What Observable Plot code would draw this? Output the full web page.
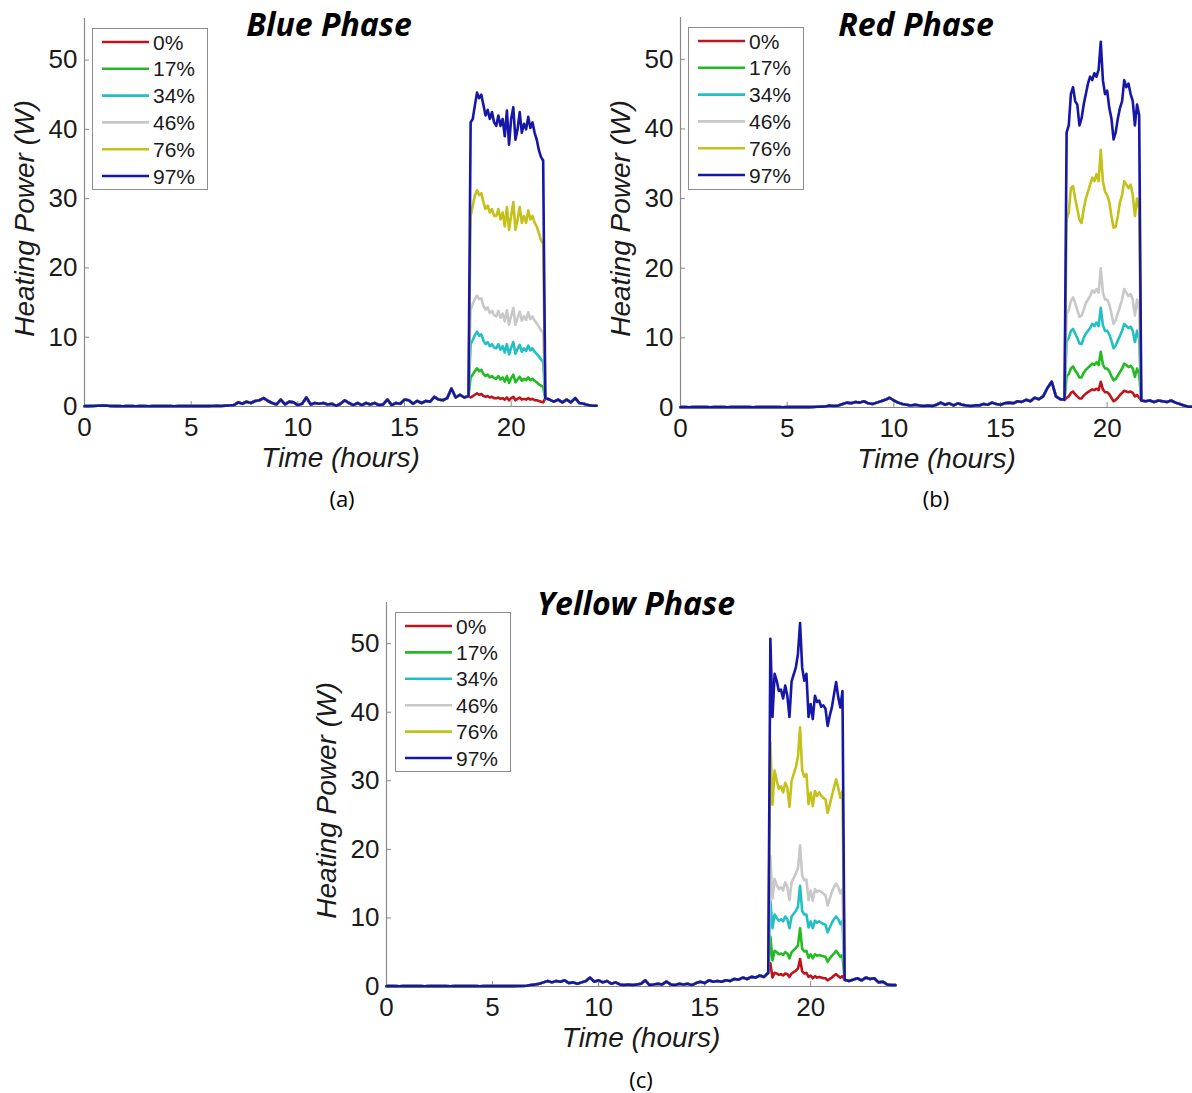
<!DOCTYPE html>
<html>
<head>
<meta charset="utf-8">
<script src="https://cdn.jsdelivr.net/npm/d3@7"></script>
<script src="https://cdn.jsdelivr.net/npm/@observablehq/plot@0.6"></script>
<style>
  body { margin: 0; background: #fff; }
  #page { position: relative; width: 1192px; height: 1093px; overflow: hidden; background: #fff; }
  .panel { position: absolute; }
  .panel svg { overflow: visible; }
  .title { position: absolute; transform: translateX(-50%); font-family: "Open Sans", sans-serif; font-weight: 700; font-style: italic; font-size: 32px; line-height: 30px; white-space: nowrap; color: #000; }
  .caption { position: absolute; transform: translateX(-50%); font-family: "Open Sans", sans-serif; font-size: 22px; line-height: 22px; color: #000; }
  .legend { position: absolute; background: #fff; border: 1px solid #8c8c8c; box-sizing: border-box; }
</style>
</head>
<body>
<div id="page"></div>
<script>
// Series (fraction of heating) and axis ticks
const seriesLabels = ["0%", "17%", "34%", "46%", "76%", "97%"];
const seriesColors = ["#c0141c", "#22bb22", "#22bfc4", "#c8c8c8", "#c4c21a", "#1616a8"];
const xTicks = [0, 5, 10, 15, 20];
const yTicks = [0, 10, 20, 30, 40, 50];

// Sample times (hours): before heating, heating window, after heating
const preHours = d3.range(91).map(i => +(i * 0.2).toFixed(1));        // 0.0 .. 18.0
const windowHours = d3.range(35).map(i => +(18.1 + i * 0.1).toFixed(1)); // 18.1 .. 21.5
const postHours = d3.range(13).map(i => +(21.6 + i * 0.2).toFixed(1));   // 21.6 .. 24.0

// ---- Blue phase ----
const bluePre = [
  0.05,0.05,0.08,0.1,0.12,0.15,0.08,0.05,0.05,0.04,
  0.05,0.05,0.04,0.06,0.05,0.04,0.05,0.05,0.06,0.05,
  0.05,0.04,0.05,0.06,0.05,0.08,0.05,0.05,0.06,0.05,
  0.08,0.1,0.08,0.12,0.15,
  0.2,0.6,0.4,0.7,0.5, 0.8,0.9,1.2,0.8,0.5, 0.3,1.0,0.3,0.7,0.6, 0.2,0.4,1.3,0.3,0.5,
  0.4,0.5,0.3,0.4,0.1, 0.4,0.9,0.5,0.2,0.5, 0.2,0.5,0.3,0.5,0.2, 0.3,1.0,0.2,0.5,0.4,
  1.0,0.9,0.4,0.8,0.5, 0.8,0.7,1.4,1.0,0.9, 1.2,2.6,1.3,1.7,1.3, 1.5
];
const bluePost = [1.2,1.0,0.7,1.0,0.6,1.0,0.6,1.2,0.5,0.4,0.2,0.1,0.1];
const blue0 = [1.3,1.5,1.7,1.9,1.7,1.8,1.5,1.4,1.5,1.3,1.4,1.2,1.2,1.3,1.1,1.2,1.0,1.3,0.9,1.2,1.4,0.9,1.1,1.3,1.0,1.1,1.0,1.2,1.0,1.1,0.9,0.9,0.8,0.7,0.6];
const blue17 = [4.2,4.6,5.1,5.5,5.1,5.3,4.7,4.4,4.6,4.2,4.4,4.1,4.0,4.4,3.9,4.2,3.6,4.4,3.4,4.1,4.6,3.5,3.9,4.3,3.7,4.0,3.8,4.2,3.8,4.0,3.7,3.5,3.2,3.0,2.8];
const blue34 = [9.0,9.6,10.3,10.8,10.2,10.4,9.5,9.0,9.3,8.7,9.0,8.5,8.4,9.0,8.2,8.7,7.8,9.0,7.5,8.5,9.3,7.6,8.3,8.9,7.9,8.4,8.0,8.8,8.1,8.4,7.9,7.6,7.2,6.8,6.4];
const blue46 = [14.0,14.8,15.5,16.0,15.5,15.6,14.5,14.0,14.3,13.5,13.8,13.2,13.0,13.8,12.8,13.4,12.3,13.9,11.8,13.1,14.2,11.8,12.8,13.7,12.4,13.0,12.5,13.6,12.6,13.0,12.4,12.0,11.5,11.0,10.7];
const blue76 = [27.5,29.0,30.5,31.2,30.5,30.8,29.5,28.5,29.0,28.0,28.5,27.5,27.5,28.5,27.0,28.0,26.0,28.8,25.5,27.5,29.5,25.5,27.0,28.8,26.5,27.5,26.5,28.3,27.0,27.5,26.5,26.0,25.0,24.0,23.5];
const blue97 = [41.0,41.5,43.5,45.3,44.5,45.0,43.5,42.0,42.8,41.5,42.5,41.0,40.5,42.0,40.5,41.5,39.0,42.7,37.8,41.5,43.2,38.5,40.0,42.5,39.5,40.8,40.0,41.8,40.2,41.0,39.5,38.5,37.0,36.0,35.5];

// ---- Red phase ----
const redPre = [
  0.05,0.05,0.04,0.05,0.05,0.06,0.05,0.04,0.05,0.05,
  0.05,0.04,0.05,0.05,0.06,0.05,0.05,0.04,0.05,0.05,
  0.06,0.05,0.05,0.05,0.04,0.05,0.06,0.05,0.05,0.08,
  0.06,0.08,0.1,0.12,0.15,
  0.3,0.2,0.3,0.5,0.7, 0.6,0.8,0.7,0.9,0.6, 0.5,0.7,0.9,1.1,1.4, 1.0,0.7,0.5,0.4,0.3,
  0.4,0.3,0.2,0.3,0.2, 0.4,0.7,0.4,0.6,0.3, 0.6,0.4,0.3,0.2,0.3, 0.3,0.5,0.4,0.7,0.5,
  0.4,0.6,0.7,0.6,0.9, 0.8,1.1,0.9,1.4,1.2, 1.6,2.8,3.7,1.6,1.2, 1.1
];
const redPost = [1.0,0.9,1.0,0.8,1.0,0.9,0.8,1.0,0.7,0.5,0.3,0.1,0.1];
const red0 = [1.4,1.6,2.1,2.3,1.9,1.6,1.3,1.3,1.7,2.0,2.2,2.4,2.6,2.5,2.7,2.5,3.7,2.6,2.2,2.2,1.9,1.4,0.9,1.1,1.4,1.8,2.1,2.4,2.3,2.2,2.3,2.1,1.6,1.8,1.4];
const red17 = [4.5,4.8,5.6,5.9,5.3,4.9,4.3,4.3,5.0,5.4,5.7,6.0,6.3,6.1,6.5,6.1,8.0,6.2,5.6,5.6,5.2,4.5,3.9,4.1,4.6,5.1,5.6,6.3,6.1,5.8,6.0,5.6,4.4,5.6,4.8];
const red34 = [9.5,10.0,11.0,11.3,10.6,10.0,9.2,9.1,10.0,10.6,11.0,11.4,12.0,11.7,12.2,11.7,14.3,11.8,11.0,11.0,10.5,9.6,8.5,8.9,9.6,10.3,11.0,12.0,11.7,11.4,11.6,11.0,9.4,11.0,9.8];
const red46 = [13.5,14.0,15.3,15.8,15.0,14.0,13.0,13.2,14.0,15.0,15.5,16.0,16.8,16.5,17.0,16.5,20.0,16.5,15.5,15.5,14.8,13.5,12.0,12.5,13.5,14.5,15.5,17.0,16.5,16.0,16.3,15.5,13.2,15.5,14.0];
const red76 = [27.0,28.0,31.5,31.8,30.0,28.5,27.0,26.5,28.5,30.0,31.0,32.0,33.0,32.5,33.5,32.5,37.0,32.5,31.0,30.5,29.5,27.5,25.8,26.0,27.5,29.5,30.5,32.5,32.0,31.5,32.0,30.5,27.5,30.0,28.5];
const red97 = [39.5,40.5,45.0,46.0,44.0,43.5,40.5,41.5,43.5,45.0,46.5,47.5,47.0,48.0,47.5,48.5,52.5,47.0,45.0,45.5,43.0,41.5,38.5,39.5,41.5,43.0,44.0,47.0,46.0,46.5,45.0,44.0,40.5,43.5,42.0];

// ---- Yellow phase ----
const yellowPre = [
  0.05,0.05,0.05,0.04,0.05,0.05,0.06,0.05,0.05,0.04,
  0.05,0.05,0.05,0.06,0.05,0.04,0.05,0.05,0.05,0.06,
  0.05,0.05,0.04,0.05,0.05,0.06,0.05,0.05,0.05,0.06,
  0.06,0.08,0.08,0.1,0.2,
  0.3,0.4,0.6,0.8,0.6, 0.8,0.7,0.9,0.5,0.6, 0.4,0.6,0.8,1.3,0.7, 0.9,0.6,0.8,0.4,0.6,
  0.3,0.2,0.3,0.2,0.3, 0.4,0.9,0.2,0.3,0.4, 0.3,0.7,0.3,0.2,0.4, 0.3,0.4,0.2,0.5,0.7,
  0.5,0.9,0.7,0.8,0.7, 0.9,0.8,1.1,1.0,1.3, 1.1,1.4,1.3,1.6,1.4, 2.0
];
const yellowPost = [1.0,0.8,1.0,1.2,0.9,1.3,1.1,1.2,0.6,0.7,0.3,0.2,0.2];
const yellow0 = [3.4,1.3,2.0,1.9,1.7,1.8,1.6,1.9,1.8,1.4,1.9,2.1,2.3,2.6,4.0,2.2,1.9,2.0,1.4,1.6,1.2,1.5,1.3,1.4,1.3,1.2,1.2,0.9,1.1,1.3,1.6,1.8,1.5,1.3,1.5];
const yellow17 = [7.3,3.8,5.2,5.0,4.7,4.8,4.6,5.0,4.8,4.1,5.0,5.3,5.6,6.0,8.5,5.5,5.1,5.2,4.2,4.7,4.1,4.7,4.5,4.6,4.5,4.4,4.3,3.6,4.1,4.5,4.8,5.2,4.8,4.3,4.6];
const yellow34 = [12.5,8.5,10.5,10.0,9.6,9.8,9.5,10.2,9.8,8.5,10.2,10.6,11.0,11.6,14.7,11.0,10.5,10.5,8.6,9.5,8.5,9.6,9.3,9.5,9.3,9.1,9.0,7.9,8.6,9.3,9.8,10.2,9.8,9.1,9.6];
const yellow46 = [19.0,12.8,15.7,14.8,14.2,14.5,14.0,15.2,14.5,12.6,15.2,15.8,16.5,17.2,20.6,16.2,15.5,15.6,12.6,14.0,12.5,14.2,13.8,14.0,13.8,13.5,13.3,11.8,12.8,13.8,14.5,15.0,14.5,13.6,14.2];
const yellow76 = [35.6,26.5,31.5,30.0,28.8,29.2,28.3,29.7,29.0,26.2,30.0,31.0,32.0,33.5,37.8,31.5,30.6,31.0,26.6,28.3,26.3,28.5,27.8,28.3,27.8,27.5,27.3,25.3,26.5,27.8,29.0,30.2,29.0,27.5,28.5];
const yellow97 = [50.7,39.3,45.6,44.6,43.1,43.3,42.0,43.9,42.4,39.3,44.5,45.5,46.5,48.5,53.0,46.5,44.6,45.6,39.3,41.2,39.0,42.4,41.5,41.7,40.8,41.0,40.5,38.0,39.5,40.7,42.6,44.4,42.2,40.7,43.1];

const axisGray = "#8a8a8a";
const tickFont = '"Liberation Sans", Arial, sans-serif';

// Long-format rows: each series shares the day's baseline outside the heating window
function buildRows(pre, post, windows) {
  const rows = [];
  seriesLabels.forEach((label, k) => {
    preHours.forEach((h, i) => rows.push({hour: h, power: pre[i], series: label}));
    windowHours.forEach((h, i) => rows.push({hour: h, power: windows[k][i], series: label}));
    postHours.forEach((h, i) => rows.push({hour: h, power: post[i], series: label}));
  });
  return rows;
}

function panelChart(rows, m) {
  return Plot.plot({
    width: m.width,
    height: m.height,
    marginLeft: 84,
    marginRight: m.right,
    marginTop: m.top,
    marginBottom: m.bottom,
    style: {fontFamily: tickFont, color: "#1a1a1a", background: "transparent", overflow: "visible"},
    x: {domain: [0, 24]},
    y: {domain: [0, 56]},
    color: {domain: seriesLabels, range: seriesColors},
    marks: [
      Plot.ruleY([0], {stroke: axisGray, strokeWidth: 1.2}),
      Plot.ruleX([0], {stroke: axisGray, strokeWidth: 1.2}),
      Plot.axisX({ticks: xTicks, tickSize: -5, tickPadding: 16, fontSize: 26, stroke: axisGray, label: null}),
      Plot.axisY({ticks: yTicks, tickSize: -5, tickPadding: 12, fontSize: 26, stroke: axisGray, label: null}),
      Plot.line(rows, {x: "hour", y: "power", z: "series", stroke: "series", strokeWidth: 2.6, strokeLinejoin: "round"}),
      Plot.text(["Heating Power (W)"], {text: d => d, frameAnchor: "left", textAnchor: "middle", lineAnchor: "middle", dx: -59, dy: 6, rotate: -90, fontSize: 28, fontStyle: "italic", fill: "#1a1a1a"}),
      Plot.text(["Time (hours)"], {text: d => d, frameAnchor: "bottom", textAnchor: "middle", lineAnchor: "middle", dy: 52, fontSize: 28, fontStyle: "italic", fill: "#1a1a1a"})
    ]
  });
}

function addLegend(page, left, top, width, height, pitch) {
  const box = document.createElement("div");
  box.className = "legend";
  Object.assign(box.style, {left: left + "px", top: top + "px", width: width + "px", height: height + "px"});
  const svg = d3.select(box).append("svg").attr("width", width - 2).attr("height", height - 2);
  const row = svg.selectAll("g").data(seriesLabels).join("g")
    .attr("transform", (d, i) => `translate(0,${13 + i * pitch})`);
  row.append("line").attr("x1", 9).attr("x2", 56).attr("stroke", (d, i) => seriesColors[i]).attr("stroke-width", 2.6);
  row.append("text").attr("x", 60).attr("dy", "0.36em").text(d => d)
    .style("font-family", tickFont).style("font-size", "21px").attr("fill", "#1a1a1a");
  page.appendChild(box);
}

function addText(page, cls, text, cx, top) {
  const el = document.createElement("div");
  el.className = cls;
  el.textContent = text;
  el.style.left = cx + "px";
  el.style.top = top + "px";
  page.appendChild(el);
}

const page = document.getElementById("page");

const panels = [
  {pre: bluePre, post: bluePost, win: [blue0, blue17, blue34, blue46, blue76, blue97],
   left: 0, top: 0, m: {width: 600, height: 480, right: 4, top: 18, bottom: 74},
   legend: [92, 28, 116, 162, 26.8], title: "Blue Phase", titleX: 329, titleY: 9, cap: "(a)", capX: 342, capY: 487},
  {pre: redPre, post: redPost, win: [red0, red17, red34, red46, red76, red97],
   left: 596, top: 0, m: {width: 596, height: 480, right: 0, top: 17, bottom: 73},
   legend: [688, 27, 116, 163, 26.8], title: "Red Phase", titleX: 916, titleY: 9, cap: "(b)", capX: 936, capY: 487},
  {pre: yellowPre, post: yellowPost, win: [yellow0, yellow17, yellow34, yellow46, yellow76, yellow97],
   left: 302, top: 582, m: {width: 600, height: 480, right: 7, top: 20, bottom: 76},
   legend: [395, 612, 116, 160, 26.4], title: "Yellow Phase", titleX: 636, titleY: 588, cap: "(c)", capX: 641, capY: 1068}
];

for (const p of panels) {
  const holder = document.createElement("div");
  holder.className = "panel";
  holder.style.left = p.left + "px";
  holder.style.top = p.top + "px";
  holder.appendChild(panelChart(buildRows(p.pre, p.post, p.win), p.m));
  page.appendChild(holder);
  addLegend(page, ...p.legend);
  addText(page, "title", p.title, p.titleX, p.titleY);
  addText(page, "caption", p.cap, p.capX, p.capY);
}
</script>
</body>
</html>
